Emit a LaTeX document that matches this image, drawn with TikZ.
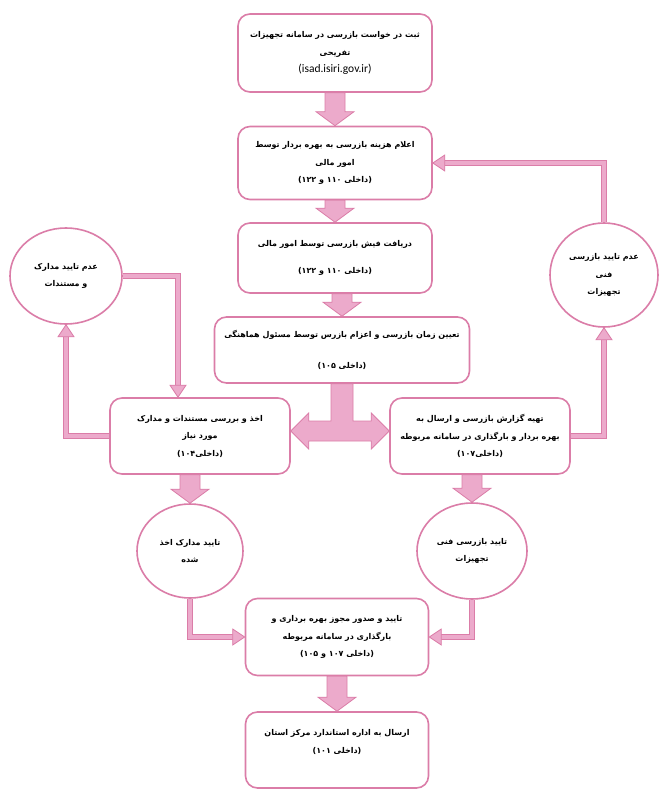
\documentclass[tikz,border=0pt]{standalone}
\usepackage{fontspec}
\usetikzlibrary{shapes.geometric,calc}
\TeXXeTstate=1
\newfontfamily\fa[Script=Arabic]{DejaVu Sans}
\newfontfamily\lat{Carlito}
\newcommand{\rtl}[1]{\beginR #1\endR}
\definecolor{pinkdark}{RGB}{219,125,168}
\definecolor{pinkfill}{RGB}{236,170,203}
\newcommand{\blockdown}[2]{%
  \path[blk] let \p1=(#1.south), \p2=(#2.north) in
    (\x2-10pt,\y1) -- (\x2+10pt,\y1) -- (\x2+10pt,\y2+14pt) -- (\x2+19pt,\y2+14pt)
    -- (\x2,\y2) -- (\x2-19pt,\y2+14pt) -- (\x2-10pt,\y2+14pt) -- cycle;}
\begin{document}
\begin{tikzpicture}[x=1pt,y=-1pt,
  box/.style={draw=pinkdark, line width=1.6pt, rounded corners=12pt, fill=white,
    align=center, inner sep=0pt, font=\fa\bfseries\fontsize{8}{17.5}\selectfont},
  oval/.style={ellipse, draw=pinkdark, line width=1.6pt, fill=white, inner sep=0pt,
    align=center, font=\fa\bfseries\fontsize{8}{17.5}\selectfont},
  blk/.style={draw=pinkdark, fill=pinkfill, line width=0.8pt, line join=miter},
  pipe/.style={draw=pinkdark, line width=0.9pt, double=pinkfill, double distance=3.6pt, line join=miter},
  hd/.style={draw=pinkdark, fill=pinkfill, line width=0.8pt, line join=miter}]
\useasboundingbox (0,0) rectangle (670,800);
\fill[white] (0,0) rectangle (670,800);

% boxes
\node[box, minimum width=194pt, minimum height=78pt] (b1) at (335,53)
  {\rtl{ثبت در خواست بازرسی در سامانه تجهیزات}\\ \rtl{تفریحی}\\ {\lat\mdseries\fontsize{11.5}{17}\selectfont (isad.isiri.gov.ir)}};
\node[box, minimum width=194pt, minimum height=73pt] (b2) at (335,163)
  {\rtl{اعلام هزینه بازرسی به بهره بردار توسط}\\ \rtl{امور مالی}\\ \rtl{(داخلی ۱۱۰ و ۱۲۲)}};
\node[box, minimum width=194pt, minimum height=70pt] (b3) at (335,258)
  {\rtl{دریافت فیش بازرسی توسط امور مالی}\\[10pt] \rtl{(داخلی ۱۱۰ و ۱۲۲)}};
\node[box, minimum width=255pt, minimum height=66pt] (b4) at (342,350)
  {\rtl{تعیین زمان بازرسی و اعزام بازرس توسط مسئول هماهنگی}\\[14pt] \rtl{(داخلی ۱۰۵)}};
\node[box, minimum width=180pt, minimum height=76pt] (b5) at (200,436)
  {\rtl{اخذ و بررسی مستندات و مدارک}\\ \rtl{مورد نیاز}\\ \rtl{(داخلی۱۰۴)}};
\node[box, minimum width=180pt, minimum height=76pt] (b6) at (480,436)
  {\rtl{تهیه گزارش بازرسی و ارسال به}\\ \rtl{بهره بردار و بارگذاری در سامانه مربوطه}\\ \rtl{(داخلی۱۰۷)}};
\node[box, minimum width=183pt, minimum height=77pt] (b7) at (337,637)
  {\rtl{تایید و صدور مجوز بهره برداری و}\\ \rtl{بارگذاری در سامانه مربوطه}\\ \rtl{(داخلی ۱۰۷ و ۱۰۵)}};
\node[box, minimum width=183pt, minimum height=76pt] (b8) at (337,750)
  {\rtl{ارسال به اداره استاندارد مرکز استان}\\ \rtl{(داخلی ۱۰۱)}\\ ~};

% ellipses
\node[oval, minimum width=112pt, minimum height=96pt] (e1) at (66,276)
  {\rtl{عدم تایید مدارک}\\ \rtl{و مستندات}};
\node[oval, minimum width=108pt, minimum height=104pt] (e2) at (604,275)
  {\rtl{عدم تایید بازرسی}\\ \rtl{فنی}\\ \rtl{تجهیزات}};
\node[oval, minimum width=106pt, minimum height=94pt] (e3) at (190,551)
  {\rtl{تایید مدارک اخذ}\\ \rtl{شده}};
\node[oval, minimum width=110pt, minimum height=96pt] (e4) at (472,551)
  {\rtl{تایید بازرسی فنی}\\ \rtl{تجهیزات}};

% block arrows
\blockdown{b1}{b2}
\blockdown{b2}{b3}
\blockdown{b3}{b4}
\blockdown{b5}{e3}
\blockdown{b6}{e4}
\blockdown{b7}{b8}

% T-shaped double arrow
\coordinate (tj) at (342,431);
\path[blk] let \p1=(b4.south), \p2=(b5.east), \p3=(b6.west), \p4=(tj) in
  (\x1-11pt,\y1) -- (\x1+11pt,\y1) -- (\x1+11pt,\y4+10pt) -- (\x3-18pt,\y4+10pt)
  -- (\x3-18pt,\y4+18pt) -- (\x3,\y4) -- (\x3-18pt,\y4-18pt) -- (\x3-18pt,\y4-10pt)
  -- (\x2+18pt,\y4-10pt) -- (\x2+18pt,\y4-18pt) -- (\x2,\y4) -- (\x2+18pt,\y4+18pt)
  -- (\x2+18pt,\y4+10pt) -- (\x1-11pt,\y4+10pt) -- cycle;

% pipe connectors
\coordinate (lx) at (178,0);
\draw[pipe] (b5.west) -| ($(e1.south)+(0,12)$);
\path[hd] (e1.south) -- ++(-8,12) -- ++(16,0) -- cycle;
\draw[pipe] (e1.east) -| ($(lx |- b5.north)+(0,-12)$);
\path[hd] (lx |- b5.north) -- ++(-8,-12) -- ++(16,0) -- cycle;
\draw[pipe] (b6.east) -| ($(e2.south)+(0,12)$);
\path[hd] (e2.south) -- ++(-8,12) -- ++(16,0) -- cycle;
\draw[pipe] (e2.north) |- ($(b2.east)+(12,0)$);
\path[hd] (b2.east) -- ++(12,-8) -- ++(0,16) -- cycle;
\draw[pipe] (e3.south) |- ($(b7.west)+(-12,0)$);
\path[hd] (b7.west) -- ++(-12,-8) -- ++(0,16) -- cycle;
\draw[pipe] (e4.south) |- ($(b7.east)+(12,0)$);
\path[hd] (b7.east) -- ++(12,-8) -- ++(0,16) -- cycle;
\end{tikzpicture}
\end{document}
